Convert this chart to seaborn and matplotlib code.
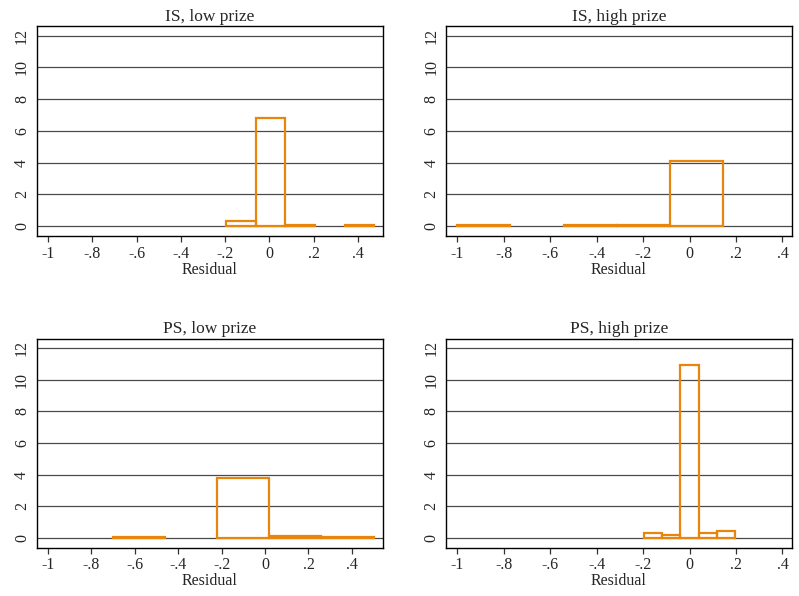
import numpy as np
import pandas as pd
import seaborn as sns
import matplotlib.pyplot as plt
from matplotlib.ticker import FuncFormatter

# bin edges and bar heights (density)
is_low_edges = [-0.196, -0.062, 0.072, 0.206, 0.340, 0.474]
is_low_heights = [0.32, 6.82, 0.05, 0.0, 0.05]

is_high_edges = [-1.000, -0.771, -0.542, -0.313, -0.084, 0.145]
is_high_heights = [0.05, 0.0, 0.05, 0.05, 4.12]

ps_low_edges = [-0.700, -0.460, -0.220, 0.020, 0.260, 0.500]
ps_low_heights = [0.06, 0.0, 3.76, 0.12, 0.06]

ps_high_edges = [-0.197, -0.118, -0.039, 0.039, 0.118, 0.197]
ps_high_heights = [0.32, 0.15, 10.95, 0.30, 0.44]

titles = ["IS, low prize", "IS, high prize", "PS, low prize", "PS, high prize"]
x_ticks = [-1, -0.8, -0.6, -0.4, -0.2, 0, 0.2, 0.4]
y_ticks = [0, 2, 4, 6, 8, 10, 12]

panels = [
    (is_low_edges, is_low_heights, [0.0463, 0.604, 0.433, 0.352], (-1.05, 0.513)),
    (is_high_edges, is_high_heights, [0.5586, 0.604, 0.4323, 0.352], (-1.047, 0.44)),
    (ps_low_edges, ps_low_heights, [0.0463, 0.081, 0.433, 0.351], (-1.05, 0.543)),
    (ps_high_edges, ps_high_heights, [0.5586, 0.081, 0.4323, 0.351], (-1.047, 0.44)),
]

sns.set_style("white")
plt.rcParams["font.family"] = ["Liberation Serif", "DejaVu Serif"]

bar_color = "#E8850C"


def stata_fmt(v, pos):
    if abs(v) < 1e-9:
        return "0"
    if abs(abs(v) - 1) < 1e-9:
        return "-1" if v < 0 else "1"
    s = f"{v:.1f}"
    return s.replace("0.", ".")


fig = plt.figure(figsize=(7.99, 5.96), dpi=100)

for (edges, heights, pos, xlim), title in zip(panels, titles):
    ax = fig.add_axes(pos)
    centers = [(a + b) / 2 for a, b in zip(edges[:-1], edges[1:])]
    df = pd.DataFrame({"Residual": centers, "h": heights})
    sns.histplot(data=df, x="Residual", weights="h", bins=edges, stat="count",
                 fill=False, element="bars", color=bar_color, linewidth=1.6,
                 ax=ax, zorder=3)
    for p in ax.patches:
        if p.get_height() <= 0:
            p.set_visible(False)
        p.set_edgecolor(bar_color)
    ax.set_xlim(*xlim)
    ax.set_ylim(-0.63, 12.6)
    ax.set_xticks(x_ticks)
    ax.set_yticks(y_ticks)
    ax.xaxis.set_major_formatter(FuncFormatter(stata_fmt))
    ax.yaxis.grid(True, color="#4a4a4a", linewidth=0.9, zorder=1)
    ax.xaxis.grid(False)
    ax.set_axisbelow(True)
    ax.tick_params(axis="y", labelrotation=90, length=4, width=0.9,
                   color="#4a4a4a", pad=1, labelsize=11.5)
    for lab in ax.get_yticklabels():
        lab.set_verticalalignment("center")
    ax.tick_params(axis="x", length=4, width=0.9, color="#333333",
                   pad=3, labelsize=11.5, bottom=True)
    for s in ax.spines.values():
        s.set_color("black")
        s.set_linewidth(1.0)
    ax.set_xlabel("Residual", fontsize=11.5, labelpad=0)
    ax.set_ylabel("")
    ax.set_title(title, fontsize=12.5, pad=4)

fig.savefig("out.png", dpi=100)
